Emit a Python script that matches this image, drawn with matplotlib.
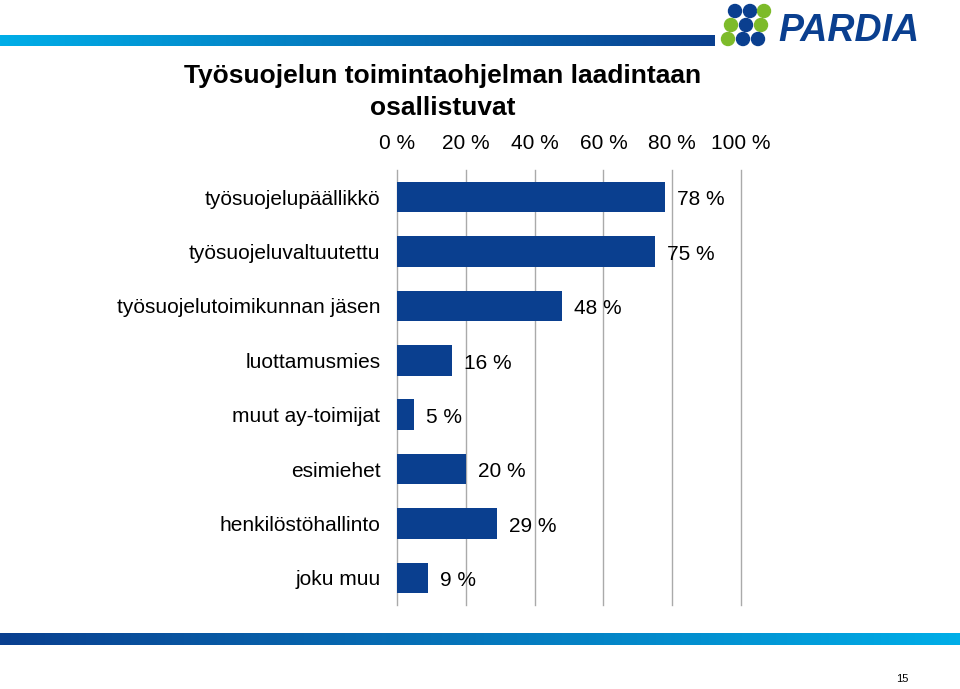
import matplotlib
matplotlib.use("Agg")
import matplotlib.pyplot as plt
import numpy as np
from matplotlib.colors import LinearSegmentedColormap
from matplotlib.patches import Ellipse

categories = ["työsuojelupäällikkö", "työsuojeluvaltuutettu", "työsuojelutoimikunnan jäsen",
              "luottamusmies", "muut ay-toimijat", "esimiehet", "henkilöstöhallinto", "joku muu"]
values = [78, 75, 48, 16, 5, 20, 29, 9]
ticks = [0, 20, 40, 60, 80, 100]

plt.rcParams["font.family"] = "Liberation Sans"
fig = plt.figure(figsize=(9.6, 6.89), dpi=100)

# kaistat ylhäällä ja alhaalla
dark = "#0a3f8f"
light = "#00aee8"
grad = np.linspace(0, 1, 256).reshape(1, -1)
top = fig.add_axes([0, 1 - 46/689, 715/960, 11/689])
top.imshow(grad, aspect="auto", cmap=LinearSegmentedColormap.from_list("t", [light, dark]))
top.axis("off")
bot = fig.add_axes([0, 1 - 645/689, 1, 12/689])
bot.imshow(grad, aspect="auto", cmap=LinearSegmentedColormap.from_list("b", [dark, light]))
bot.axis("off")

# logo
fig.text(0.958, 1 - 31/689, "PARDIA", color="#0a3f8f", fontsize=27, fontweight="bold",
         fontstyle="italic", ha="right", va="center")
for (x, y, c) in [(735, 11, "#0a3f8f"), (750, 11, "#0a3f8f"), (764, 11, "#7dbb2a"),
                  (731, 25, "#7dbb2a"), (746, 25, "#0a3f8f"), (761, 25, "#7dbb2a"),
                  (728, 39, "#7dbb2a"), (743, 39, "#0a3f8f"), (758, 39, "#0a3f8f")]:
    fig.patches.append(Ellipse((x/960, 1 - y/689), 13/960, 13/689, transform=fig.transFigure,
                               color=c, figure=fig))

fig.text(443/960, 1 - 92/689, "Työsuojelun toimintaohjelman laadintaan\nosallistuvat",
         ha="center", va="center", fontsize=19, fontweight="bold", linespacing=1.4)

ax = fig.add_axes([397/960, 1 - 605/689, 344/960, 435/689])
y = np.arange(len(categories))
ax.barh(y, values, height=0.56, color="#0a3f8f")
for yi, v in zip(y, values):
    ax.text(v + 3.5, yi + 0.05, f"{v} %", va="center", fontsize=15)
ax.set_xlim(0, 100)
ax.set_ylim(len(categories) - 0.5, -0.5)
ax.set_yticks(y)
ax.set_yticklabels(categories, fontsize=15)
ax.set_xticks(ticks)
ax.set_xticklabels([f"{t} %" for t in ticks], fontsize=15)
ax.xaxis.tick_top()
ax.tick_params(axis="y", length=0, pad=12)
ax.tick_params(axis="x", length=0, pad=12)
for t in ticks:
    ax.axvline(t, color="#aaaaaa", linewidth=1, zorder=0, clip_on=False)
for s in ax.spines.values():
    s.set_visible(False)

fig.text(0.94, 1 - 682/689, "15", fontsize=8, ha="center")
fig.savefig("out.png", dpi=100)
